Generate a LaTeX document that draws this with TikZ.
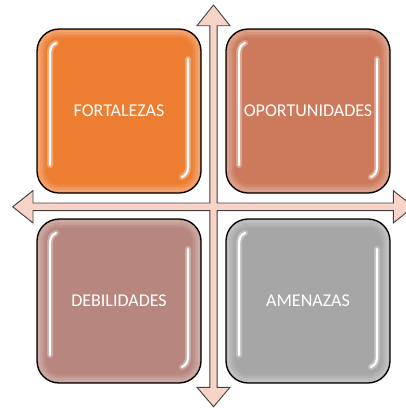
\documentclass[tikz,border=0pt]{standalone}
\usepackage{fontspec}
\setmainfont{Carlito}
\definecolor{cF}{HTML}{ED7D31}
\definecolor{cO}{HTML}{CD7A5C}
\definecolor{cD}{HTML}{B7867E}
\definecolor{cA}{HTML}{A6A6A6}
\definecolor{arrowfill}{HTML}{F8D4C8}
\definecolor{arrowline}{HTML}{404040}
\tikzset{
  quadbox/.style={draw=black, line width=1.3pt, rounded corners=22pt,
    minimum width=164pt, minimum height=164pt, inner sep=0pt},
  quadtext/.style={text=white, font=\fontsize{18}{20}\selectfont},
  gloss/.style={white, line cap=round, line width=2.2pt},
  glossglow/.style={white, line cap=round, line width=6pt, opacity=0.3},
  crossarrow/.style={fill=arrowfill, draw=arrowline, line width=0.9pt, line join=miter}
}
\newcommand{\glossyquad}[5]{%
  \node[quadbox, fill=#4] (#1) at (#2,#3) {};
  \begin{scope}[shift={(#2,#3)}]
    \foreach \d/\o in {2/0.28,3.5/0.22,5/0.16,6.5/0.10,8/0.05}{
      \pgfmathsetmacro{\e}{82-\d}
      \pgfmathsetmacro{\r}{22-\d}
      \draw[white, opacity=\o, line width=1.6pt, rounded corners=\r pt] (-\e,-\e) rectangle (\e,\e);
    }
    \draw[glossglow] (-63,-68) .. controls (-68,-66) and (-69,-62) .. (-69,-56) -- (-69,54);
    \draw[gloss] (-63,-68) .. controls (-68,-66) and (-69,-62) .. (-69,-56) -- (-69,54);
    \draw[glossglow] (69,-52) -- (69,56) .. controls (69,61) and (67,64) .. (63,66);
    \draw[gloss] (69,-52) -- (69,56) .. controls (69,61) and (67,64) .. (63,66);
  \end{scope}
  \node[quadtext] (#1-label) at (#2,#3) {#5};
}
\begin{document}
\begin{tikzpicture}[x=1pt, y=-1pt]
  \useasboundingbox (0,0) rectangle (406,408);
  \clip (0,0) rectangle (406,408);
  % four-way cross arrow
  \draw[crossarrow]
    (213.5,5) -- (230,25.7) -- (217.1,25.7) -- (217.1,203) -- (393.3,203)
    -- (393.3,190.6) -- (413.6,206.8) -- (393.3,223) -- (393.3,210.6)
    -- (217.1,210.6) -- (217.1,387.3) -- (230,387.3) -- (213.5,406.7)
    -- (197,387.3) -- (209.9,387.3) -- (209.9,210.6) -- (33,210.6)
    -- (33,223) -- (12.7,206.8) -- (33,190.6) -- (33,203) -- (209.9,203)
    -- (209.9,25.7) -- (197,25.7) -- cycle;
  % quadrants
  \glossyquad{fort}{119}{111}{cF}{FORTALEZAS}
  \glossyquad{opor}{308}{111}{cO}{OPORTUNIDADES}
  \glossyquad{debi}{119}{301}{cD}{DEBILIDADES}
  \glossyquad{amen}{308}{301}{cA}{AMENAZAS}
\end{tikzpicture}
\end{document}
